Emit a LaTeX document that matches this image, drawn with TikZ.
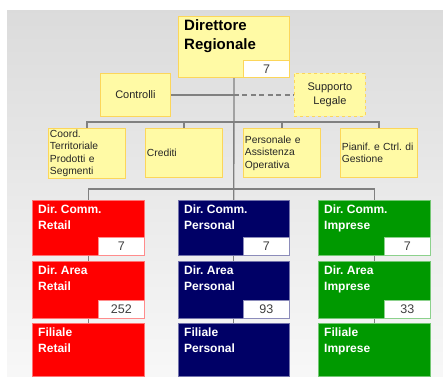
\documentclass[tikz,border=0pt]{standalone}
\usepackage{fontspec}
\setmainfont{Liberation Sans}
\usetikzlibrary{positioning,calc,backgrounds}
\definecolor{ylwfill}{RGB}{255,250,165}
\definecolor{ylwline}{RGB}{252,214,90}
\definecolor{retailred}{RGB}{255,0,0}
\definecolor{personalblue}{RGB}{0,0,102}
\definecolor{impresegreen}{RGB}{0,153,0}
\definecolor{connline}{RGB}{128,128,128}
\tikzset{
  ybox/.style={draw=ylwline, fill=ylwfill, line width=0.9pt, inner sep=3pt, text=black!85},
  staffbox/.style={ybox, minimum width=77pt, minimum height=49pt, text width=74pt, inner sep=1.5pt,
    align=left, anchor=north west, font=\fontsize{10.3}{12.4}\selectfont},
  unitbox/.style={draw=#1!55!white, fill=#1, line width=0.6pt, minimum width=112pt, anchor=north west},
  unittxt/.style={anchor=north west, align=left, text=white, inner sep=0pt,
    font=\bfseries\fontsize{12}{16.5}\selectfont, xshift=6pt, yshift=-4.5pt},
  numbox/.style={draw=#1, fill=white, line width=0.6pt, minimum width=46pt, minimum height=18pt,
    inner sep=0pt, anchor=south east, font=\fontsize{12.5}{14}\selectfont, text=black!75},
  conn/.style={draw=connline, line width=1.3pt},
}

\begin{document}
\frenchspacing
\begin{tikzpicture}[x=1pt, y=-1pt]
  \useasboundingbox (0,0) rectangle (443,376);
  % head of the region
  \node[ybox, minimum width=111pt, minimum height=61pt, anchor=north west,
    label={[unittxt, yshift=1.5pt, text=black, font=\bfseries\fontsize{15}{19}\selectfont]north west:Direttore\\Regionale}]
    (dir) at (178,16) {};
  \node[numbox=ylwline, minimum height=17pt] (dirn) at (dir.south east) {7};
  % staff units
  \node[ybox, minimum width=70pt, minimum height=43pt, anchor=north west,
    font=\fontsize{11}{13}\selectfont] (ctrl) at (100,73) {Controlli};
  \node[ybox, dashed, minimum width=71pt, minimum height=43pt, anchor=north west, align=center,
    font=\fontsize{11}{13.5}\selectfont] (supp) at (294,73) {Supporto\\Legale};
  \node[staffbox] (coord) at (48,128) {Coord.\\Territoriale\\Prodotti e\\Segmenti};
  \node[staffbox] (cred) at (145,128) {Crediti};
  \node[staffbox] (pers) at (243,128) {Personale e\\Assistenza\\Operativa};
  \node[staffbox] (pian) at (340,128) {Pianif. e Ctrl. di\\Gestione};
  % Retail line
  \node[unitbox=retailred, minimum height=55pt, label={[unittxt]north west:Dir. Comm.\\Retail}] (rcomm) at (32,200) {};
  \node[numbox=retailred!45] (rcommn) at (rcomm.south east) {7};
  \node[unitbox=retailred, minimum height=57pt, label={[unittxt]north west:Dir. Area\\Retail}] (rarea) at (32,261) {};
  \node[numbox=retailred!45] (rarean) at (rarea.south east) {252};
  \node[unitbox=retailred, minimum height=53pt, label={[unittxt]north west:Filiale\\Retail}] (rfil) at (32,323) {};
  % Personal line
  \node[unitbox=personalblue, minimum width=111pt, minimum height=55pt, label={[unittxt]north west:Dir. Comm.\\Personal}] (pcomm) at (178,200) {};
  \node[numbox=personalblue!45] (pcommn) at (pcomm.south east) {7};
  \node[unitbox=personalblue, minimum width=111pt, minimum height=57pt, label={[unittxt]north west:Dir. Area\\Personal}] (parea) at (178,261) {};
  \node[numbox=personalblue!45] (parean) at (parea.south east) {93};
  \node[unitbox=personalblue, minimum width=111pt, minimum height=53pt, label={[unittxt]north west:Filiale\\Personal}] (pfil) at (178,323) {};
  % Imprese line
  \node[unitbox=impresegreen, minimum height=55pt, label={[unittxt]north west:Dir. Comm.\\Imprese}] (icomm) at (318,200) {};
  \node[numbox=impresegreen!45] (icommn) at (icomm.south east) {7};
  \node[unitbox=impresegreen, minimum height=57pt, label={[unittxt]north west:Dir. Area\\Imprese}] (iarea) at (318,261) {};
  \node[numbox=impresegreen!45] (iarean) at (iarea.south east) {33};
  \node[unitbox=impresegreen, minimum height=53pt, label={[unittxt]north west:Filiale\\Imprese}] (ifil) at (318,323) {};

  \coordinate (busA) at (0,122);
  \coordinate (busB) at (0,189);
  \begin{scope}[on background layer]
    \shade[top color=black!14, bottom color=black!3] (7,10) rectangle (443,376);
    \draw[conn] (dir.south) -- (pcomm.north);
    \draw[conn] (ctrl.east) -- (ctrl.east -| dir.south);
    \draw[conn, dash pattern=on 5pt off 3.5pt] (ctrl.east -| dir.south) -- (supp.west);
    \draw[conn] (coord.north) |- (busA -| pian.north) -- (pian.north);
    \draw[conn] (cred.north) -- (cred.north |- busA);
    \draw[conn] (pers.north) -- (pers.north |- busA);
    \draw[conn] (rcomm.north) |- (busB -| icomm.north) -- (icomm.north);
    \draw[conn] (rcomm.south) -- (rarea.north);
    \draw[conn] (rarea.south) -- (rfil.north);
    \draw[conn] (pcomm.south) -- (parea.north);
    \draw[conn] (parea.south) -- (pfil.north);
    \draw[conn] (icomm.south) -- (iarea.north);
    \draw[conn] (iarea.south) -- (ifil.north);
  \end{scope}
\end{tikzpicture}
\end{document}
